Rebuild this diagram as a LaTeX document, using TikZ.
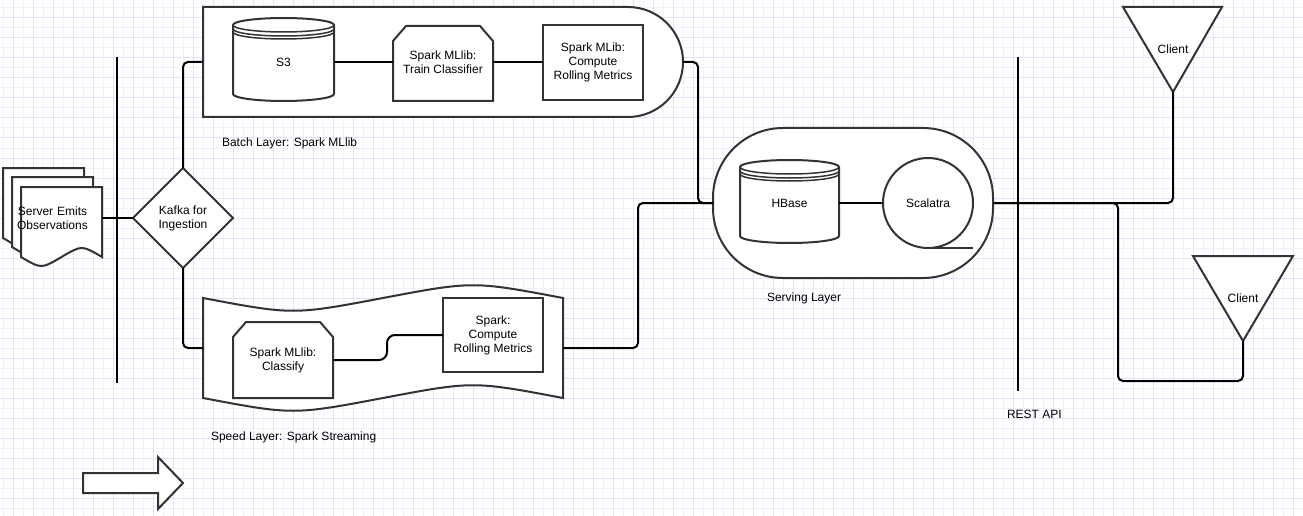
\documentclass[tikz,border=0pt]{standalone}
\usepackage{fontspec}
\setmainfont{Liberation Sans}
\usetikzlibrary{shapes.geometric,calc}
\definecolor{gminor}{HTML}{F1F0FC}
\definecolor{gmajor}{HTML}{E4E2F8}
\definecolor{edge}{HTML}{333333}
\begin{document}
\begin{tikzpicture}[x=1pt,y=-1pt,
  shp/.style={draw=edge, line width=2pt, fill=white, line join=miter},
  thinline/.style={draw=edge, line width=1.5pt},
  conn/.style={draw=black, line width=2pt, rounded corners=5pt},
  bar/.style={draw=black, line width=2.5pt},
  txt/.style={font=\fontsize{12pt}{14pt}\selectfont, align=center, inner sep=0pt, outer sep=0pt},
  caplbl/.style={txt, anchor=west}
]
\fill[white] (0,0) rectangle (1303,516);
\useasboundingbox (0,0) rectangle (1303,516);
\foreach \x in {3,23,...,1303} \draw[gminor, line width=1pt] (\x,0) -- (\x,516);
\foreach \y in {8,28,...,516} \draw[gminor, line width=1pt] (0,\y) -- (1303,\y);
\foreach \x in {13,33,...,1303} \draw[gmajor, line width=1pt] (\x,0) -- (\x,516);
\foreach \y in {18,38,...,516} \draw[gmajor, line width=1pt] (0,\y) -- (1303,\y);

% vertical bars
\coordinate (barLt) at (117,57); \coordinate (barLb) at (117,383);
\draw[bar] (barLt) -- (barLb);
\coordinate (barRt) at (1018,57); \coordinate (barRb) at (1018,391);
\draw[bar] (barRt) -- (barRb);

% document stack
\draw[shp] (3,168) -- (84,168) -- (84,238) .. controls (63.75,226) .. (43.5,238) .. controls (23.25,250) .. (3,238) -- cycle;
\draw[shp] (12,177) -- (93,177) -- (93,247) .. controls (72.75,235) .. (52.5,247) .. controls (32.25,259) .. (12,247) -- cycle;
\draw[shp] (21,187) -- (102,187) -- (102,257) .. controls (81.75,245) .. (61.5,257) .. controls (41.25,269) .. (21,257) -- cycle;
\node[txt, text width=99pt] (doc) at (52.5,218) {Server Emits\\Observations};

% kafka
\node[shp, diamond, aspect=1, minimum width=100pt, minimum height=100pt, txt] (kafka) at (183,218) {Kafka for\\Ingestion};

% batch container
\node[minimum width=480pt, minimum height=110pt, inner sep=0pt, outer sep=0pt] (batch) at (443,62) {};
\draw[shp] (203,117) -- (203,7) -- (628,7) .. controls (658.4,7) and (683,31.6) .. (683,62) .. controls (683,92.4) and (658.4,117) .. (628,117) -- cycle;

% speed container
\node[minimum width=360pt, minimum height=100pt, inner sep=0pt, outer sep=0pt] (speed) at (383,348) {};
\draw[shp] (203,298) .. controls (293,315) .. (383,298) .. controls (473,281) .. (563,298) -- (563,398) .. controls (473,381) .. (383,398) .. controls (293,415) .. (203,398) -- cycle;

% serving container
\node[shp, rounded corners=70pt, minimum width=280pt, minimum height=150pt, inner sep=0pt, outer sep=0pt] (serv) at (853,203) {};

% S3 cylinder
\draw[shp] (233,25) arc[start angle=180, end angle=0, x radius=50.5pt, y radius=7pt] -- (334,94) arc[start angle=0, end angle=-180, x radius=50.5pt, y radius=7pt] -- cycle;
\draw[thinline] (233,25) arc[start angle=180, end angle=360, x radius=50.5pt, y radius=7pt];
\draw[thinline] (233,29) arc[start angle=180, end angle=360, x radius=50.5pt, y radius=7pt];
\draw[thinline] (233,32) arc[start angle=180, end angle=360, x radius=50.5pt, y radius=7pt];
\node[txt, minimum width=101pt, minimum height=83pt] (s3) at (283.5,62) {S3};

% train classifier
\draw[shp] (393,101) -- (393,41) -- (406,26) -- (480,26) -- (493,41) -- (493,101) -- cycle;
\node[txt, minimum width=100pt, minimum height=75pt] (tc) at (443,62) {Spark MLlib:\\Train Classifier};

% batch compute
\node[shp, txt, minimum width=100pt, minimum height=75pt] (crm) at (593,62.5) {Spark MLib:\\Compute\\Rolling Metrics};

% HBase cylinder
\draw[shp] (740,167) arc[start angle=180, end angle=0, x radius=49.5pt, y radius=7pt] -- (839,236) arc[start angle=0, end angle=-180, x radius=49.5pt, y radius=7pt] -- cycle;
\draw[thinline] (740,167) arc[start angle=180, end angle=360, x radius=49.5pt, y radius=7pt];
\draw[thinline] (740,171) arc[start angle=180, end angle=360, x radius=49.5pt, y radius=7pt];
\draw[thinline] (740,174) arc[start angle=180, end angle=360, x radius=49.5pt, y radius=7pt];
\node[txt, minimum width=99pt, minimum height=83pt] (hbase) at (789.5,203) {HBase};

% Scalatra
\node[shp, circle, txt, minimum size=90pt] (scal) at (928,203) {Scalatra};
\draw[edge, line width=2pt] (scal.south) -- (973,248);

% classify
\draw[shp] (233,398) -- (233,337) -- (246,322) -- (320,322) -- (333,337) -- (333,398) -- cycle;
\node[txt, minimum width=100pt, minimum height=76pt] (cls) at (283,360) {Spark MLlib:\\Classify};

% speed compute
\node[shp, txt, minimum width=100pt, minimum height=74pt] (scm) at (493,335) {Spark:\\Compute\\Rolling Metrics};

% clients
\draw[shp] (1123,7) -- (1222,7) -- (1173,92) -- cycle;
\node[txt, minimum width=99pt, minimum height=85pt] (cl1) at (1173,49.5) {Client};
\draw[shp] (1193,256) -- (1293,256) -- (1243,341) -- cycle;
\node[txt, minimum width=100pt, minimum height=85pt] (cl2) at (1243,298.5) {Client};

% arrow
\draw[shp] (83,473) -- (158,473) -- (158,457) -- (183,483) -- (158,509) -- (158,493) -- (83,493) -- cycle;

% labels
\node[caplbl] (lblBatch) at (222,143) {Batch Layer: Spark MLlib};
\node[caplbl] (lblSpeed) at (211,437) {Speed Layer: Spark Streaming};
\node[caplbl] (lblServ) at (767,298) {Serving Layer};
\node[caplbl] (lblRest) at (1007,414) {REST API};

% connectors
\draw[conn] (doc.east) -- (kafka.west);
\draw[conn] (kafka.north) |- (batch.west);
\draw[conn] (kafka.south) |- (speed.west);
\draw[conn] (s3) -- (tc);
\draw[conn] (tc.east) -- (tc.east -| crm.west);
\draw[conn] (batch.east) -- ++(15,0) |- (serv.west);
\draw[conn] (speed.east) -- ++(75,0) |- (serv.west);
\draw[conn] (hbase) -- (scal);
\draw[conn, rounded corners=8pt] (cls.east) -- ++(54,0) |- (scm.west);
\draw[conn] (serv.east) -| (cl1.south);
\draw[conn] (serv.east) -- ++(125,0) -- ++(0,178) -| (cl2.south);
\end{tikzpicture}
\end{document}
